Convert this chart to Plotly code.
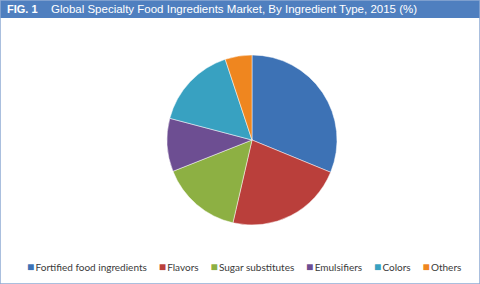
import plotly.graph_objects as go

categories = ["Fortified food ingredients", "Flavors", "Sugar substitutes", "Emulsifiers", "Colors", "Others"]
values = [31.2, 22.4, 15.4, 10.1, 15.8, 5.1]
colors = ["#3D72B5", "#BA3F3B", "#8DB043", "#6D4E92", "#38A1C1", "#EF861F"]

W, H = 480, 284
cx, cy, r = 252, 140, 85

fig = go.Figure(go.Pie(
    labels=categories, values=values, sort=False, direction="clockwise", rotation=0,
    marker=dict(colors=colors, line=dict(color="rgba(255,255,255,0.6)", width=0.8)),
    textinfo="none",
    domain=dict(x=[(cx - r) / W, (cx + r) / W], y=[1 - (cy + r) / H, 1 - (cy - r) / H]),
))

gap = "&nbsp;" * 4 + '<span style="font-size:6px">&nbsp;</span>'
legend_text = gap.join(
    f'<span style="color:{c};font-size:12px">■</span><span style="font-size:5px">&nbsp;</span>{lab}'
    for lab, c in zip(categories, colors)
)

fig.update_layout(
    width=W, height=H, margin=dict(l=0, r=0, t=0, b=0),
    paper_bgcolor="white", plot_bgcolor="white",
    showlegend=False,
    shapes=[
        dict(type="rect", xref="paper", yref="paper", x0=0, x1=1, y0=0, y1=1,
             line=dict(color="#8FAAD4", width=1.5), fillcolor="rgba(0,0,0,0)", layer="above"),
        dict(type="rect", xref="paper", yref="paper", x0=0, x1=1, y0=1 - 18 / H, y1=1,
             line=dict(width=0), fillcolor="#4F7FBF", layer="below"),
    ],
    annotations=[
        dict(text="<b>FIG. 1</b>", x=5 / W, y=1 - 9 / H, xref="paper", yref="paper",
             xanchor="left", yanchor="middle", showarrow=False,
             font=dict(family="Liberation Sans, Arial, sans-serif", size=11, color="white")),
        dict(text="Global Specialty Food Ingredients Market, By Ingredient Type, 2015 (%)",
             x=49 / W, y=1 - 9 / H, xref="paper", yref="paper",
             xanchor="left", yanchor="middle", showarrow=False,
             font=dict(family="Liberation Sans, Arial, sans-serif", size=11.5, color="white")),
        dict(text=legend_text, x=244 / W, y=1 - 266 / H, xref="paper", yref="paper",
             xanchor="center", yanchor="middle", showarrow=False,
             font=dict(family="Lato, Open Sans, sans-serif", size=10, color="#3A3A3A")),
    ],
)

fig.write_html("out.html")
